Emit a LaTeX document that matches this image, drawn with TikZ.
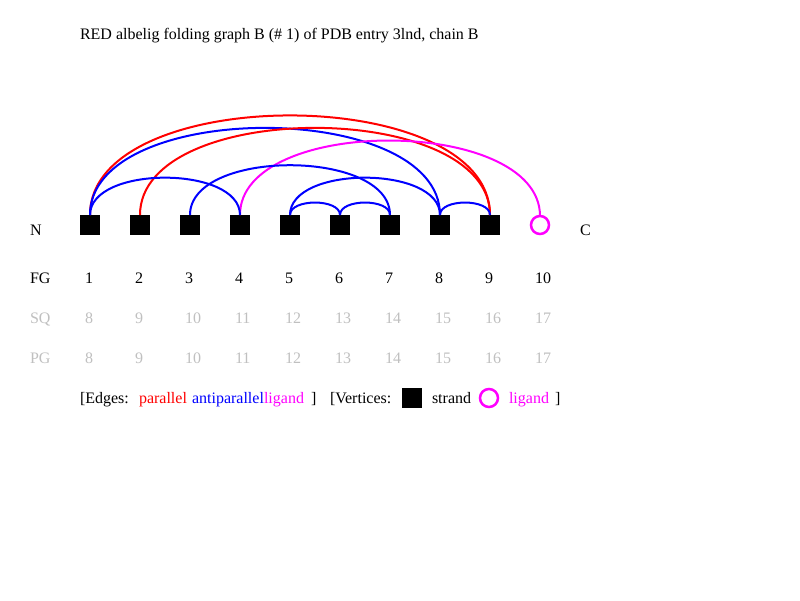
\documentclass[tikz,border=0pt]{standalone}
\usepackage{fontspec}
\setmainfont{Liberation Serif}
\definecolor{ligmag}{RGB}{255,0,255}
\definecolor{parred}{RGB}{255,0,0}
\definecolor{antiblue}{RGB}{0,0,255}
\definecolor{faintgray}{RGB}{192,192,192}
\begin{document}
\begin{tikzpicture}[x=1pt,y=1pt,
  txt/.style={anchor=base west,inner sep=0pt,outer sep=0pt,font=\fontsize{16}{19}\selectfont},
  faint/.style={txt,text=faintgray},
  strand/.style={rectangle,fill=black,minimum size=20pt,inner sep=0pt,outer sep=0pt},
  ligandv/.style={circle,draw=ligmag,line width=2.5pt,minimum size=18pt,inner sep=0pt,outer sep=0pt},
  fgedge/.style={line width=2pt,out=90,in=90,looseness=0.851},
  par/.style={fgedge,draw=parred},
  anti/.style={fgedge,draw=antiblue},
  lig/.style={fgedge,draw=ligmag}]
\useasboundingbox (0,0) rectangle (800,600);
\fill[white] (0,0) rectangle (800,600);

% title
\node[txt] (title) at (80,560) {RED albelig folding graph B (\# 1) of PDB entry 3lnd, chain B};

% vertices
\foreach \i in {1,...,9} {
  \node[strand] (v\i) at ({90+50*(\i-1)},375) {};
}
\node[ligandv] (v10) at (540,375) {};

\node[txt] (nterm) at (30,364) {N};
\node[txt] (cterm) at (580,364) {C};

% edges
\draw[par]  (v1.north) to (v9.north);
\draw[anti] (v1.north) to (v8.north);
\draw[par]  (v2.north) to (v9.north);
\draw[lig]  (v4.north) to (v10.north);
\draw[anti] (v1.north) to (v4.north);
\draw[anti] (v3.north) to (v7.north);
\draw[anti] (v5.north) to (v8.north);
\draw[anti] (v5.north) to (v6.north);
\draw[anti] (v6.north) to (v7.north);
\draw[anti] (v8.north) to (v9.north);

% index rows
\node[txt] (fglab) at (30,316) {FG};
\node[faint] (sqlab) at (30,276) {SQ};
\node[faint] (pglab) at (30,236) {PG};
\foreach \i in {1,...,10} {
  \pgfmathtruncatemacro{\sq}{\i+7}
  \node[txt] (fg\i) at ({85+50*(\i-1)},316) {\i};
  \node[faint] (sq\i) at ({85+50*(\i-1)},276) {\sq};
  \node[faint] (pg\i) at ({85+50*(\i-1)},236) {\sq};
}

% legend
\node[txt] (le1) at (80,196) {[Edges:};
\node[txt,text=parred] (le2) at (139,196) {parallel};
\node[txt,text=antiblue] (le3) at (192,196) {antiparallel};
\node[txt,text=ligmag] (le4) at (264,196) {ligand};
\node[txt] (le5) at (311,196) {]};
\node[txt] (le6) at (330,196) {[Vertices:};
\node[strand] (lsq) at (412,202) {};
\node[txt] (le7) at (432,196) {strand};
\node[ligandv] (lci) at (489,202) {};
\node[txt,text=ligmag] (le8) at (509,196) {ligand};
\node[txt] (le9) at (555,196) {]};
\end{tikzpicture}
\end{document}
